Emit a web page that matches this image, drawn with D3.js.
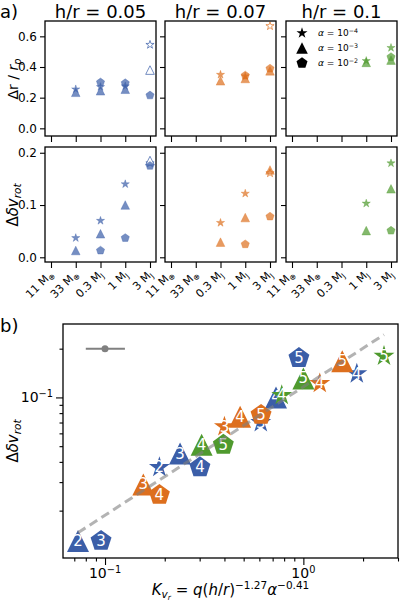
<!DOCTYPE html>
<html>
<head>
<meta charset="utf-8">
<script src="https://cdn.jsdelivr.net/npm/d3@7"></script>
<style>
  body { margin: 0; background: #fff; }
  svg { display: block; font-family: "DejaVu Sans", sans-serif; }
</style>
</head>
<body>
<svg id="chart" width="400" height="602"></svg>
<script>
// ── data ────────────────────────────────────────────────────────────────────
const massLabels = [['11 M', '⊕'], ['33 M', '⊕'], ['0.3 M', 'J'], ['1 M', 'J'], ['3 M', 'J']];
const hrLabels = ['0.05', '0.07', '0.1'];
const alphaExp = ['−4', '−3', '−2'];           // star, triangle, pentagon
const hrColors = ['#3b5ea8', '#dd6f1e', '#4f9a2e'];

// one entry per simulation run
const runHr    = [0, 0, 0, 0, 0, 0, 0, 0, 0, 0, 0,   1, 1, 1, 1, 1, 1, 1, 1,   2, 2, 2, 2, 2];
const runAlpha = [0, 1, 0, 1, 2, 0, 1, 2, 0, 1, 2,   0, 1, 0, 1, 2, 0, 1, 2,   0, 1, 0, 1, 2];
const runMass  = [1, 1, 2, 2, 2, 3, 3, 3, 4, 4, 4,   2, 2, 3, 3, 3, 4, 4, 4,   3, 3, 4, 4, 4];
const runDr    = [0.255, 0.235, 0.27, 0.245, 0.30, 0.275, 0.255, 0.295, 0.545, 0.38, 0.215,
                  0.35, 0.31, 0.34, 0.325, 0.345, 0.667, 0.375, 0.39,
                  0.44, 0.43, 0.525, 0.445, 0.465];
const runDv    = [0.037, 0.013, 0.07, 0.045, 0.013, 0.14, 0.10, 0.037, 0.18, 0.185, 0.175,
                  0.066, 0.029, 0.122, 0.076, 0.025, 0.161, 0.167, 0.078,
                  0.103, 0.051, 0.18, 0.131, 0.051];
const runK     = [0.188, 0.0731, 0.61, 0.239, 0.0955, 1.86, 0.728, 0.301, null, null, 0.95,
                  0.40, 0.156, 1.21, 0.48, 0.188, null, 1.57, 0.612,
                  0.778, 0.307, 2.55, 1.0, 0.395];
const runOpen  = [0, 0, 0, 0, 0, 0, 0, 0, 1, 1, 0,   0, 0, 0, 0, 0, 1, 0, 0,   0, 0, 0, 0, 0];

// fit line and typical error bar in panel b
const fitK = [0.073, 2.55];
const fitV = [0.0146, 0.244];
const errK = [0.08, 0.1, 0.126];
const errV = 0.2;

const drTicks = [0, 0.2, 0.4, 0.6];
const dvTicks = [0, 0.1, 0.2];

// ── helpers ─────────────────────────────────────────────────────────────────
const FONT = '"DejaVu Sans", sans-serif';
const svg = d3.select('#chart');

function markerPath(kind, r) {
  let pts = [];
  if (kind === 1) {
    pts = [[0, -r], [-r, r], [r, r]];
  } else if (kind === 2) {
    for (let k = 0; k < 5; k++) {
      const a = -Math.PI / 2 + k * 2 * Math.PI / 5;
      pts.push([r * Math.cos(a), r * Math.sin(a)]);
    }
  } else {
    for (let k = 0; k < 10; k++) {
      const a = -Math.PI / 2 + k * Math.PI / 5;
      const rr = k % 2 ? r * 0.381966 : r;
      pts.push([rr * Math.cos(a), rr * Math.sin(a)]);
    }
  }
  return 'M' + pts.map((p) => p[0].toFixed(2) + ',' + p[1].toFixed(2)).join('L') + 'Z';
}

// parts: [text, 'sup'|'sub'|'subsub'|null, italic]
function rich(text, parts, fs) {
  let cur = 0;
  parts.forEach(([s, pos, it]) => {
    const target = pos === 'sup' ? -0.38 * fs : pos === 'sub' ? 0.22 * fs : pos === 'subsub' ? 0.34 * fs : 0;
    const size = pos === 'subsub' ? fs * 0.5 : pos ? fs * 0.7 : fs;
    text.append('tspan')
      .attr('dy', (target - cur).toFixed(2))
      .attr('font-size', size)
      .attr('font-style', it ? 'italic' : null)
      .text(s);
    cur = target;
  });
}

function styleAxis(g) {
  g.selectAll('.domain').remove();
  g.selectAll('line').attr('stroke', '#000').attr('stroke-width', 1.1);
  g.selectAll('text').attr('font-family', FONT).attr('fill', '#000');
}

// ── panel a ─────────────────────────────────────────────────────────────────
const colX = [45, 165, 286];
const colW = 111;
const yDr = d3.scaleLinear().domain([-0.05, 0.70]).range([136, 21]);
const yDv = d3.scaleLinear().domain([-0.009, 0.211]).range([262, 147]);
const rows = [{ y: yDr, vals: runDr, ticks: drTicks }, { y: yDv, vals: runDv, ticks: dvTicks }];

svg.append('text').attr('x', 0).attr('y', 18).attr('font-size', 18).attr('font-family', FONT).text('a)');

hrLabels.forEach((hr, c) => {
  const x = d3.scalePoint().domain(d3.range(massLabels.length)).range([colX[c] + 6, colX[c] + colW - 6]);

  svg.append('text')
    .attr('x', colX[c] + colW / 2).attr('y', 18)
    .attr('text-anchor', 'middle').attr('font-size', 18).attr('font-family', FONT)
    .text(`h/r = ${hr}`);

  rows.forEach((row, ri) => {
    const [y0, y1] = row.y.range();
    const g = svg.append('g');

    const ax = g.append('g').attr('transform', `translate(${colX[c]},0)`)
      .call(d3.axisLeft(row.y).tickValues(row.ticks).tickSize(5).tickPadding(3)
        .tickFormat(c === 0 ? d3.format('.1f') : ''));
    styleAxis(ax);
    ax.selectAll('text').attr('font-size', 12);

    const bx = g.append('g').attr('transform', `translate(0,${y0})`)
      .call(d3.axisBottom(x).tickSize(6).tickFormat(''));
    styleAxis(bx);

    if (ri === 1) {
      massLabels.forEach((m, i) => {
        const t = svg.append('text')
          .attr('transform', `translate(${x(i) + 3},${y0 + 13}) rotate(-45)`)
          .attr('text-anchor', 'end').attr('font-size', 11).attr('font-family', FONT);
        rich(t, [[m[0], null], [m[1], 'sub']], 11);
      });
    }

    // runs of this h/r
    runHr.forEach((h, k) => {
      if (h !== c) return;
      const col = hrColors[c];
      g.append('path')
        .attr('d', markerPath(runAlpha[k], 4.3))
        .attr('transform', `translate(${x(runMass[k])},${row.y(row.vals[k])})`)
        .attr('fill', runOpen[k] ? '#fff' : col)
        .attr('fill-opacity', runOpen[k] ? 1 : 0.7)
        .attr('stroke', col).attr('stroke-opacity', 0.7)
        .attr('stroke-width', runOpen[k] ? 1 : 0.5);
    });

    g.append('rect')
      .attr('x', colX[c]).attr('y', y1).attr('width', colW).attr('height', y0 - y1)
      .attr('fill', 'none').attr('stroke', '#000').attr('stroke-width', 1.3);
  });
});

// y labels, panel a
{
  const t1 = svg.append('text').attr('transform', 'translate(18,79) rotate(-90)')
    .attr('text-anchor', 'middle').attr('font-size', 14).attr('font-family', FONT);
  rich(t1, [['Δr / ', null], ['r', null, true], ['p', 'sub', true]], 14);
  const t2 = svg.append('text').attr('transform', 'translate(18,205) rotate(-90)')
    .attr('text-anchor', 'middle').attr('font-size', 15).attr('font-family', FONT);
  rich(t2, [['Δ', null], ['δv', null, true], ['rot', 'sub', true]], 15);
}

// legend
{
  const lg = svg.append('g');
  alphaExp.forEach((e, i) => {
    const ly = 33 + i * 15;
    lg.append('path').attr('d', markerPath(i, 5.8)).attr('transform', `translate(302,${ly})`).attr('fill', '#000');
    const t = lg.append('text').attr('x', 318).attr('y', ly + 3).attr('font-size', 9).attr('font-family', FONT);
    rich(t, [['α', null, true], [' = 10', null], [e, 'sup']], 9);
  });
}

// ── panel b ─────────────────────────────────────────────────────────────────
const bL = 63, bR = 398, bT = 324, bB = 558;
const xK = d3.scaleLog().domain([0.0614, 3.0]).range([bL, bR]);
const yV = d3.scaleLog().domain([0.0102, 0.284]).range([bB, bT]);

svg.append('text').attr('x', 0).attr('y', 332).attr('font-size', 18).attr('font-family', FONT).text('b)');

const xMinor = [0.07, 0.08, 0.09, 0.2, 0.3, 0.4, 0.5, 0.6, 0.7, 0.8, 0.9, 2, 3];
const yMinor = [0.02, 0.03, 0.04, 0.05, 0.06, 0.07, 0.08, 0.09, 0.2];

[[d3.axisBottom(xK).tickValues(xMinor).tickSize(3.5), `translate(0,${bB})`],
 [d3.axisBottom(xK).tickValues([0.1, 1]).tickSize(7), `translate(0,${bB})`],
 [d3.axisLeft(yV).tickValues(yMinor).tickSize(3.5), `translate(${bL},0)`],
 [d3.axisLeft(yV).tickValues([0.1]).tickSize(7), `translate(${bL},0)`]].forEach(([a, tr]) => {
  const g = svg.append('g').attr('transform', tr).call(a.tickFormat(''));
  styleAxis(g);
});

[[0.1, '−1'], [1, '0']].forEach(([v, e]) => {
  const t = svg.append('text').attr('x', xK(v)).attr('y', bB + 20)
    .attr('text-anchor', 'middle').attr('font-size', 14).attr('font-family', FONT);
  rich(t, [['10', null], [e, 'sup']], 14);
});
{
  const t = svg.append('text').attr('x', bL - 10).attr('y', yV(0.1) + 5)
    .attr('text-anchor', 'end').attr('font-size', 14).attr('font-family', FONT);
  rich(t, [['10', null], ['−1', 'sup']], 14);
}

// error bar
svg.append('line')
  .attr('x1', xK(errK[0])).attr('x2', xK(errK[2]))
  .attr('y1', yV(errV)).attr('y2', yV(errV))
  .attr('stroke', '#808080').attr('stroke-width', 2);
svg.append('circle').attr('cx', xK(errK[1])).attr('cy', yV(errV)).attr('r', 3.5).attr('fill', '#808080');

// numbered markers
const pts = svg.append('g');
runK.forEach((k, i) => {
  if (k === null) return;
  const cx = xK(k), cy = yV(runDv[i]);
  pts.append('path')
    .attr('d', markerPath(runAlpha[i], 11))
    .attr('transform', `translate(${cx},${cy})`)
    .attr('fill', hrColors[runHr[i]]);
  pts.append('text')
    .attr('x', cx).attr('y', cy)
    .attr('text-anchor', 'middle').attr('dominant-baseline', 'central')
    .attr('font-size', 15).attr('font-family', FONT).attr('fill', '#fff')
    .text(runMass[i] + 1);
});

// fit line on top
svg.append('line')
  .attr('x1', xK(fitK[0])).attr('y1', yV(fitV[0]))
  .attr('x2', xK(fitK[1])).attr('y2', yV(fitV[1]))
  .attr('stroke', 'rgba(128,128,128,0.6)').attr('stroke-width', 3)
  .attr('stroke-dasharray', '9,5');

svg.append('rect')
  .attr('x', bL).attr('y', bT).attr('width', bR - bL).attr('height', bB - bT)
  .attr('fill', 'none').attr('stroke', '#000').attr('stroke-width', 1.3);

// axis labels, panel b
{
  const t = svg.append('text').attr('transform', `translate(18,${(bT + bB) / 2}) rotate(-90)`)
    .attr('text-anchor', 'middle').attr('font-size', 15).attr('font-family', FONT);
  rich(t, [['Δ', null], ['δv', null, true], ['rot', 'sub', true]], 15);

  const xl = svg.append('text').attr('x', (bL + bR) / 2).attr('y', 595)
    .attr('text-anchor', 'middle').attr('font-size', 15).attr('font-family', FONT);
  rich(xl, [['K', null, true], ['v', 'sub', true], ['r', 'subsub', true], [' = ', null],
            ['q', null, true], ['(', null], ['h', null, true], ['/', null], ['r', null, true], [')', null],
            ['−1.27', 'sup'], ['α', null, true], ['−0.41', 'sup']], 15);
}
</script>
</body>
</html>
